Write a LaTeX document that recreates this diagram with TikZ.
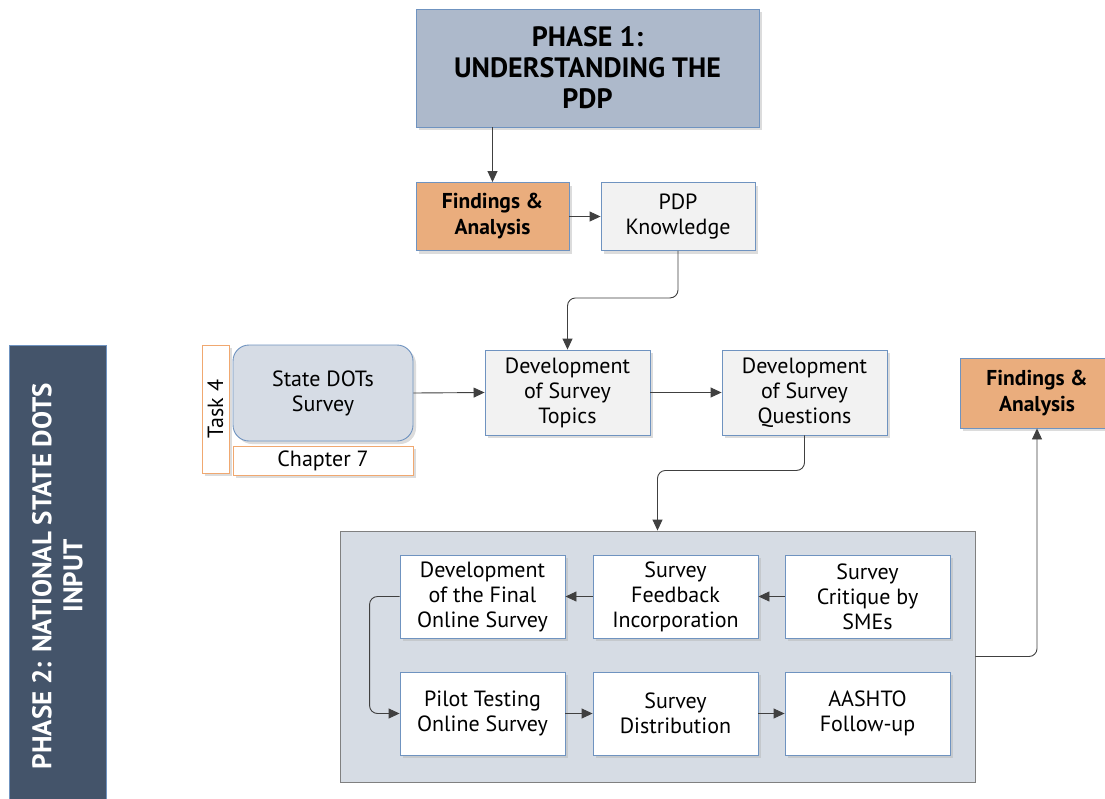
\documentclass[tikz,border=0pt]{standalone}
\usepackage{fontspec}
\setmainfont{PT Sans}
\usetikzlibrary{arrows.meta,shadows,calc}

\definecolor{phaseblue}{HTML}{ADB9CB}
\definecolor{edgeblue}{HTML}{6F93C0}
\definecolor{findorange}{HTML}{EAAD7D}
\definecolor{paleface}{HTML}{F2F2F2}
\definecolor{stateface}{HTML}{D6DCE5}
\definecolor{groupface}{HTML}{D6DCE4}
\definecolor{groupedge}{HTML}{808080}
\definecolor{slate}{HTML}{44546A}
\definecolor{tabedge}{HTML}{F0A870}
\definecolor{wire}{HTML}{404040}

\tikzset{
  x=1pt, y=-1pt,
  shade/.style={drop shadow={shadow xshift=3pt, shadow yshift=-3pt, fill=black!30, opacity=0.45}},
  box/.style={draw=edgeblue, line width=0.9pt, shade, align=center, inner sep=2pt,
    font=\fontsize{22}{25}\selectfont},
  findbox/.style={box, fill=findorange, minimum width=153pt, minimum height=68pt,
    font=\fontsize{21.5}{26}\selectfont\bfseries},
  plainbox/.style={box, fill=paleface, minimum width=165pt, minimum height=85pt},
  stagebox/.style={box, fill=white, minimum width=165pt, minimum height=83pt},
  tabbox/.style={draw=tabedge, line width=0.9pt, fill=white, shade, inner sep=1pt,
    font=\fontsize{22}{25}\selectfont},
  conn/.style={draw=wire, line width=0.9pt, -{Triangle[length=11pt,width=10pt]}, rounded corners=8pt},
}

\begin{document}
\begin{tikzpicture}
\clip (0,0) rectangle (1105,798);
\fill[white] (0,0) rectangle (1105,798);

% Phase 1 heading and its results
\node[box, fill=phaseblue, minimum width=343pt, minimum height=118pt,
  font=\fontsize{28}{31}\selectfont\bfseries] (phase1) at (587.5,68)
  {PHASE 1:\\UNDERSTANDING THE\\PDP};
\node[findbox] (find1) at (492.5,216.5) {Findings \&\\Analysis};
\node[box, fill=paleface, minimum width=154pt, minimum height=68pt] (pdp) at (678,216.5)
  {PDP\\Knowledge};

% Phase 2 side banner
\node[fill=slate, draw=edgeblue, line width=0.6pt, rotate=90, minimum width=462pt, minimum height=97pt,
  text=white, align=center, font=\fontsize{27}{31}\selectfont\bfseries] (phase2) at (57.5,576)
  {PHASE 2: NATIONAL STATE DOTS\\INPUT};

% Task 4 source
\node[tabbox, rotate=90, minimum width=128pt, minimum height=27pt] (task4) at (215.5,409) {Task 4};
\node[box, fill=stateface, draw=edgeblue, rounded corners=16pt, minimum width=180pt, minimum height=96pt]
  (state) at (323,393) {State DOTs\\Survey};
\node[tabbox, minimum width=180pt, minimum height=29pt] (ch7) at (323,460.5) {Chapter 7};

% Survey design steps
\node[plainbox] (topics) at (567.5,392.5) {Development\\of Survey\\Topics};
\node[plainbox] (questions) at (804.5,392.5) {Development\\of Survey\\Questions};
\node[findbox, minimum width=154pt, minimum height=70pt] (find2) at (1037,393) {Findings \&\\Analysis};

% Survey execution group
\node[draw=groupedge, fill=groupface, line width=0.9pt, minimum width=635pt, minimum height=251pt]
  (group) at (657.5,656.5) {};
\node[stagebox] (final) at (482.5,596.5) {Development\\of the Final\\Online Survey};
\node[stagebox] (feedback) at (675.5,596.5) {Survey\\Feedback\\Incorporation};
\node[stagebox] (critique) at (867.5,596.5) {Survey\\Critique by\\SMEs};
\node[stagebox] (pilot) at (482.5,713.5) {Pilot Testing\\Online Survey};
\node[stagebox] (distrib) at (675.5,713.5) {Survey\\Distribution};
\node[stagebox] (aashto) at (867.5,713.5) {AASHTO\\Follow-up};

% Connectors
\draw[conn] (phase1.south -| find1.north) -- (find1.north);
\draw[conn] (find1.east) -- (pdp.west);
\draw[conn] (pdp.south) -- ++(0,47) -| (topics.north);
\draw[conn] (state.east) -- (topics.west);
\draw[conn] (topics.east) -- (questions.west);
\draw[conn] (questions.south) -- ++(0,35) -| (group.north);
\draw[conn] (critique.west) -- (feedback.east);
\draw[conn] (feedback.west) -- (final.east);
\draw[conn] (final.west) -- ++(-30,0) |- (pilot.west);
\draw[conn] (pilot.east) -- (distrib.west);
\draw[conn] (distrib.east) -- (aashto.west);
\draw[conn] (group.east) -| (find2.south);
\end{tikzpicture}
\end{document}
